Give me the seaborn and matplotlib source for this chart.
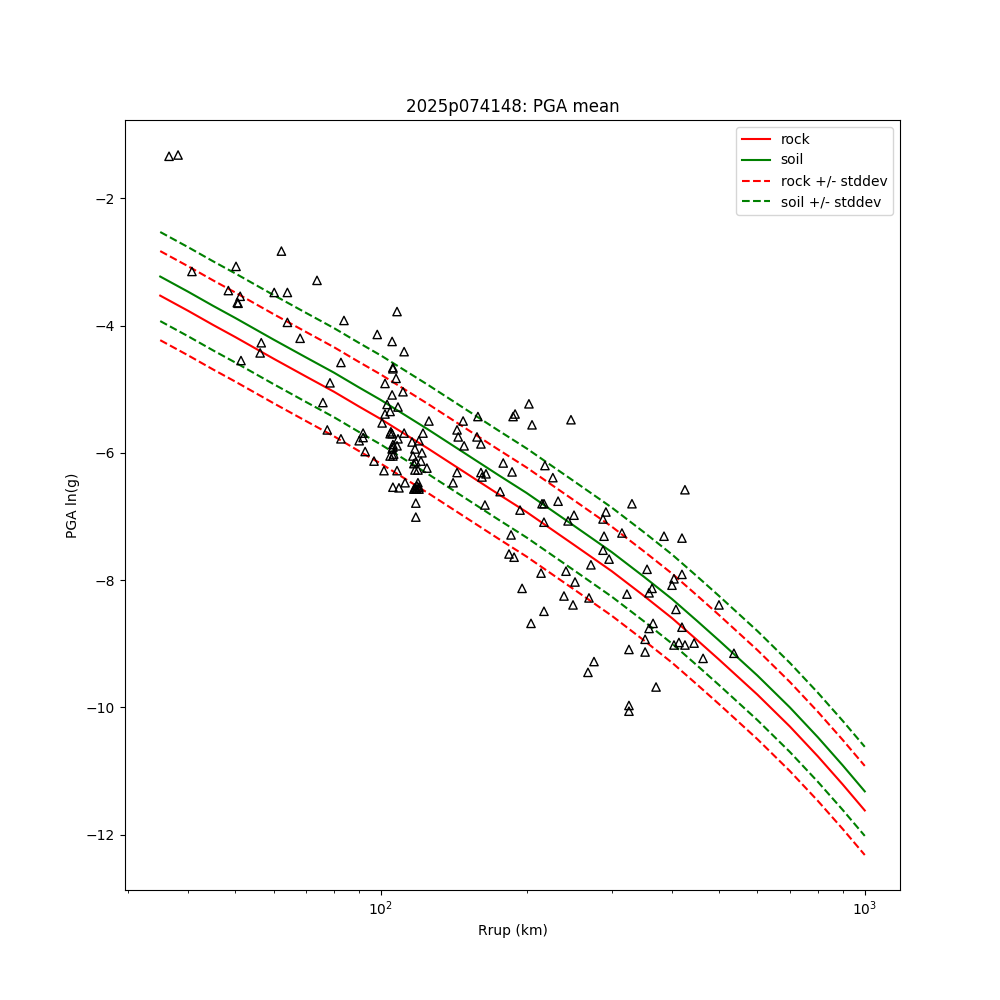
import seaborn as sns
import matplotlib
matplotlib.use('Agg')
import matplotlib.pyplot as plt
from matplotlib.ticker import LogLocator, NullFormatter

# model curves
rrup_model = [35, 40, 45, 50, 60, 70, 80, 90, 100, 125, 150, 175, 200, 250, 300, 350, 400, 450, 500, 600, 700, 800, 900, 1000]
rock_mean = [-3.53, -3.77, -3.99, -4.18, -4.52, -4.80, -5.04, -5.27, -5.47, -5.93, -6.32, -6.65, -6.93, -7.44, -7.86, -8.25, -8.60, -8.94, -9.25, -9.80, -10.30, -10.77, -11.21, -11.62]
soil_mean = [-3.23, -3.47, -3.69, -3.88, -4.22, -4.50, -4.74, -4.97, -5.17, -5.63, -6.02, -6.35, -6.63, -7.14, -7.56, -7.95, -8.30, -8.64, -8.95, -9.50, -10.00, -10.47, -10.91, -11.32]
rock_plus = [-2.83, -3.07, -3.29, -3.48, -3.82, -4.10, -4.34, -4.57, -4.77, -5.23, -5.62, -5.95, -6.23, -6.74, -7.16, -7.55, -7.90, -8.24, -8.55, -9.10, -9.60, -10.07, -10.51, -10.92]
rock_minus = [-4.23, -4.47, -4.69, -4.88, -5.22, -5.50, -5.74, -5.97, -6.17, -6.63, -7.02, -7.35, -7.63, -8.14, -8.56, -8.95, -9.30, -9.64, -9.95, -10.50, -11.00, -11.47, -11.91, -12.32]
soil_plus = [-2.53, -2.77, -2.99, -3.18, -3.52, -3.80, -4.04, -4.27, -4.47, -4.93, -5.32, -5.65, -5.93, -6.44, -6.86, -7.25, -7.60, -7.94, -8.25, -8.80, -9.30, -9.77, -10.21, -10.62]
soil_minus = [-3.93, -4.17, -4.39, -4.58, -4.92, -5.20, -5.44, -5.67, -5.87, -6.33, -6.72, -7.05, -7.33, -7.84, -8.26, -8.65, -9.00, -9.34, -9.65, -10.20, -10.70, -11.17, -11.61, -12.02]

# station observations
rrup_obs = [36.5, 38.1, 40.7, 50.2, 48.4, 51.2, 50.5, 50.7, 62.3, 60.2, 64.1, 73.8, 64.1, 68.1, 56.6, 56.3, 51.4,
            108.0, 83.9, 98.3, 105.5, 111.7, 82.7, 105.9, 105.9, 107.5, 102.0, 78.5, 111.1, 105.5, 75.9, 103.0, 108.5, 104.5, 102.0, 100.6, 125.7,
            104.9, 104.5, 105.5, 111.7, 91.9, 122.2, 108.5, 91.9, 90.2, 82.7, 116.0, 119.9, 105.9, 108.0, 105.9, 117.6, 105.5, 92.8, 121.6, 116.5, 106.3, 104.5, 105.9,
            96.8, 121.0, 118.1, 117.0, 101.5, 108.0, 117.6, 119.3, 124.5, 105.9, 109.0, 112.2, 119.3, 118.7, 119.9, 118.1, 117.0, 119.9, 118.7, 117.6, 118.1, 118.1,
            202.3, 189.4, 187.6, 205.3, 247.1, 158.7, 147.9, 143.7, 144.5, 158.0, 161.0, 148.6, 179.0, 186.7, 143.7, 141.0, 161.0, 164.9, 161.8, 218.3, 226.7, 176.4, 164.1,
            232.4, 215.3, 217.3, 193.9, 250.7, 243.7, 217.3, 185.8, 291.8, 287.8, 289.2, 314.9,
            184.0, 188.5, 287.8, 296.2, 271.7, 354.9, 241.3, 214.3, 251.9, 195.8, 363.4, 358.3, 322.5, 239.0, 269.2, 249.5, 217.3, 204.3, 365.2, 358.3, 351.6, 325.6, 351.6, 275.7, 267.9, 370.4, 325.6, 325.6,
            425.0, 330.3, 384.7, 419.0, 419.0, 403.4, 399.6, 499.7, 407.2, 419.0, 403.4, 413.0, 425.0, 443.9, 536.5, 463.3, 77.5]
pga_obs = [-1.34, -1.32, -3.15, -3.07, -3.45, -3.54, -3.64, -3.65, -2.83, -3.48, -3.48, -3.29, -3.95, -4.20, -4.27, -4.43, -4.55,
           -3.78, -3.92, -4.14, -4.25, -4.41, -4.58, -4.66, -4.68, -4.83, -4.91, -4.90, -5.04, -5.09, -5.21, -5.24, -5.28, -5.35, -5.39, -5.53, -5.50,
           -5.67, -5.70, -5.70, -5.69, -5.69, -5.69, -5.78, -5.76, -5.81, -5.78, -5.83, -5.81, -5.87, -5.89, -5.91, -5.94, -5.94, -5.98, -6.00, -6.05, -6.02, -6.05, -6.05,
           -6.13, -6.13, -6.14, -6.17, -6.28, -6.28, -6.27, -6.27, -6.24, -6.54, -6.55, -6.47, -6.47, -6.52, -6.54, -6.57, -6.57, -6.57, -6.57, -6.55, -6.79, -7.01,
           -5.23, -5.39, -5.43, -5.56, -5.48, -5.43, -5.50, -5.64, -5.75, -5.75, -5.86, -5.89, -6.16, -6.30, -6.31, -6.47, -6.31, -6.33, -6.38, -6.20, -6.39, -6.61, -6.82,
           -6.76, -6.80, -6.80, -6.90, -6.98, -7.07, -7.09, -7.29, -6.93, -7.04, -7.31, -7.26,
           -7.59, -7.64, -7.53, -7.67, -7.76, -7.83, -7.86, -7.89, -8.03, -8.13, -8.13, -8.20, -8.22, -8.25, -8.28, -8.39, -8.49, -8.68, -8.68, -8.76, -8.93, -9.09, -9.13, -9.28, -9.45, -9.68, -9.97, -10.06,
           -6.58, -6.80, -7.31, -7.34, -7.91, -7.98, -8.08, -8.39, -8.46, -8.74, -9.02, -8.98, -9.02, -8.99, -9.15, -9.23, -5.64]

fig, ax = plt.subplots(figsize=(10, 10))
ax.set_xscale('log')

sns.lineplot(ax=ax, x=rrup_model, y=rock_mean, color='r', label='rock')
sns.lineplot(ax=ax, x=rrup_model, y=soil_mean, color='g', label='soil')
sns.lineplot(ax=ax, x=rrup_model, y=rock_plus, color='r', linestyle='--', label='rock +/- stddev')
sns.lineplot(ax=ax, x=rrup_model, y=rock_minus, color='r', linestyle='--')
sns.lineplot(ax=ax, x=rrup_model, y=soil_plus, color='g', linestyle='--', label='soil +/- stddev')
sns.lineplot(ax=ax, x=rrup_model, y=soil_minus, color='g', linestyle='--')

sns.scatterplot(ax=ax, x=rrup_obs, y=pga_obs, marker='^', s=36, facecolor='none',
                edgecolor='k', linewidth=1.0, zorder=3)

# minor ticks on the log axis
ax.xaxis.set_minor_locator(LogLocator(base=10, subs=[2, 3, 4, 5, 6, 7, 8, 9], numticks=12))
ax.xaxis.set_minor_formatter(NullFormatter())

ax.set_title('2025p074148: PGA mean')
ax.set_xlabel('Rrup (km)')
ax.set_ylabel('PGA ln(g)')
ax.legend(loc='upper right')

plt.savefig('out.png', dpi=100)
